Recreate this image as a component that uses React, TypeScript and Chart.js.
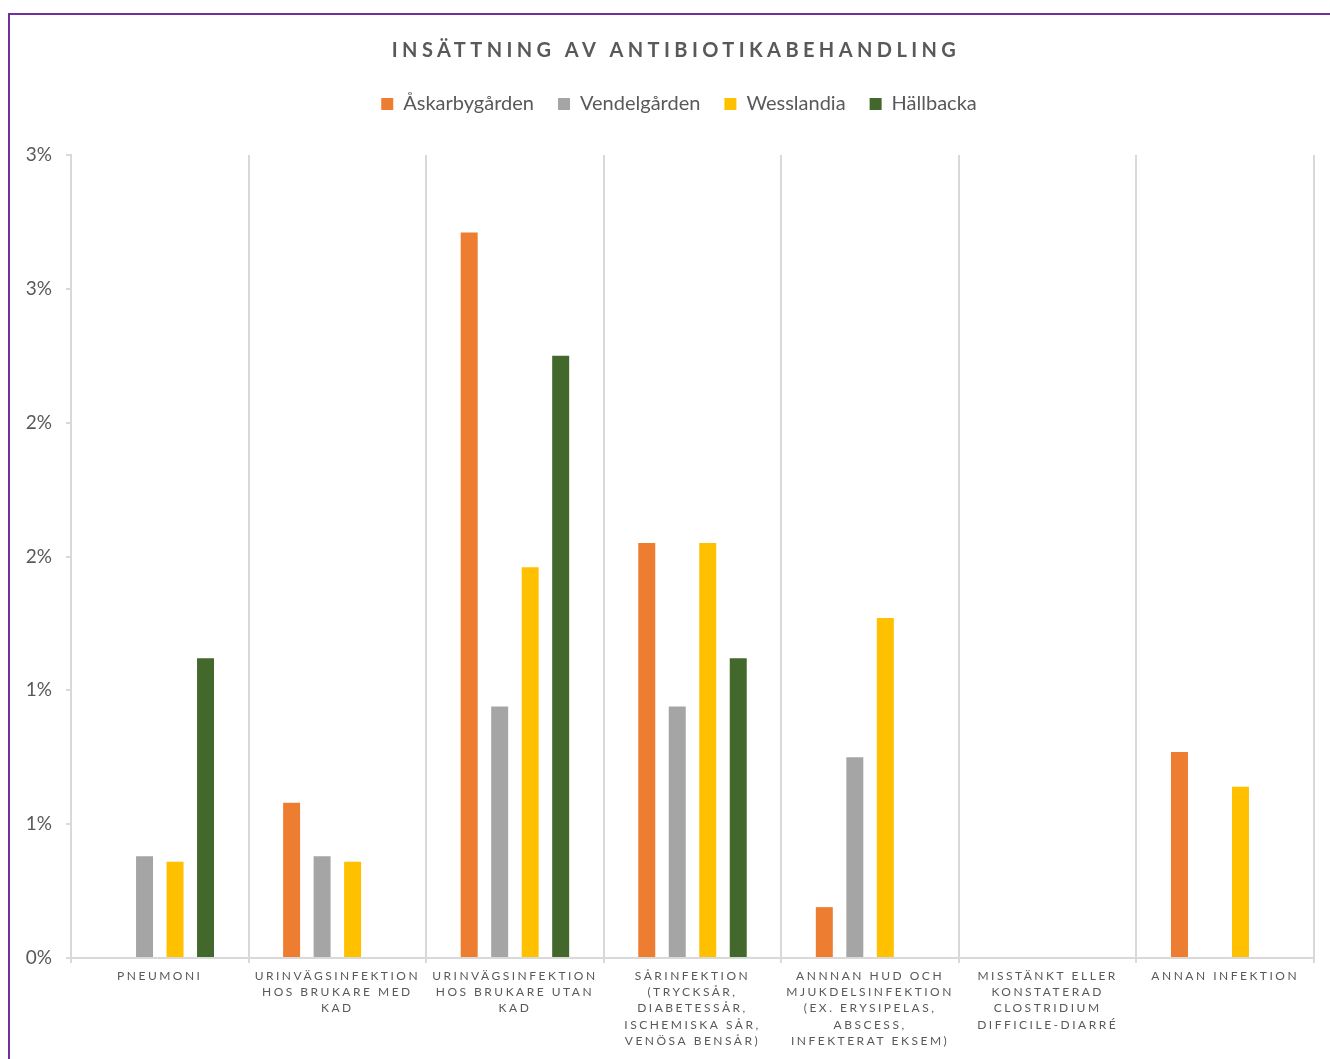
import { useEffect, useRef } from 'react';
import { Chart, CategoryScale, registerables } from 'chart.js';

Chart.register(...registerables);

const TITLE = 'INSÄTTNING AV ANTIBIOTIKABEHANDLING';

const categories: string[][] = [
  ['PNEUMONI'],
  ['URINVÄGSINFEKTION', 'HOS BRUKARE MED', 'KAD'],
  ['URINVÄGSINFEKTION', 'HOS BRUKARE UTAN', 'KAD'],
  ['SÅRINFEKTION', '(TRYCKSÅR,', 'DIABETESSÅR,', 'ISCHEMISKA SÅR,', 'VENÖSA BENSÅR)'],
  ['ANNNAN HUD OCH', 'MJUKDELSINFEKTION', '(EX. ERYSIPELAS,', 'ABSCESS,', 'INFEKTERAT EKSEM)'],
  ['MISSTÄNKT ELLER', 'KONSTATERAD', 'CLOSTRIDIUM', 'DIFFICILE-DIARRÉ'],
  ['ANNAN INFEKTION'],
];

// Percent of residents started on antibiotics, per unit and infection type
const askarbygarden = [0, 0.58, 2.71, 1.55, 0.19, 0, 0.77];
const vendelgarden = [0.38, 0.38, 0.94, 0.94, 0.75, 0, 0];
const wesslandia = [0.36, 0.36, 1.46, 1.55, 1.27, 0, 0.64];
const hallbacka = [1.12, 0, 2.25, 1.12, 0, 0, 0];

const seriesNames = ['Åskarbygården', 'Vendelgården', 'Wesslandia', 'Hällbacka'];
const seriesColors = ['#ED7D31', '#A5A5A5', '#FFC000', '#43682B'];

// Axis runs 0–3 % in half-percent steps; labels are shown rounded to whole percent
const yMin = 0;
const yMax = 3;
const yStep = 0.5;
const yTickLabels = ['0%', '1%', '1%', '2%', '2%', '3%', '3%'];

const TEXT_COLOR = '#595959';
const LINE_COLOR = '#D9D9D9';
const FONT = 'Lato, "Open Sans", sans-serif';
const X_LABEL_SPACING = 2.5;
const LEGEND_GAP = 31;
const LEGEND_SHIFT = 17;

// Category axis whose labels are drawn letter-spaced
class SpacedCategoryScale extends CategoryScale {
  static id = 'spacedCategory';
  static defaults = CategoryScale.defaults;
  drawLabels(chartArea: any) {
    const ctx = this.ctx as any;
    const prev = ctx.letterSpacing;
    ctx.letterSpacing = `${X_LABEL_SPACING}px`;
    super.drawLabels(chartArea);
    ctx.letterSpacing = prev ?? '0px';
  }
}
Chart.register(SpacedCategoryScale);

// Adds breathing room between the legend row and the plot, and nudges the row sideways
const legendGap = {
  id: 'legendGap',
  beforeInit(chart: any) {
    const legend = chart.legend;
    if (!legend) return;
    const fit = legend.fit;
    legend.fit = function () {
      fit.call(this);
      this.height += LEGEND_GAP;
    };
  },
  afterLayout(chart: any) {
    const legend = chart.legend;
    if (!legend) return;
    legend.left += LEGEND_SHIFT;
    legend.right += LEGEND_SHIFT;
  },
};

// Bold, letter-spaced heading
const spacedTitle = {
  id: 'spacedTitle',
  afterDraw(chart: any) {
    const ctx = chart.ctx;
    ctx.save();
    ctx.font = `bold 20px ${FONT}`;
    ctx.fillStyle = TEXT_COLOR;
    (ctx as any).letterSpacing = '4.4px';
    ctx.textAlign = 'center';
    ctx.textBaseline = 'alphabetic';
    ctx.fillText(TITLE, chart.width / 2 + 6, 42);
    ctx.restore();
  },
};

export default function App() {
  const canvasRef = useRef<HTMLCanvasElement | null>(null);

  useEffect(() => {
    const canvas = canvasRef.current;
    if (!canvas) return;
    const seriesValues = [askarbygarden, vendelgarden, wesslandia, hallbacka];

    const chart = new Chart(canvas, {
      type: 'bar',
      data: {
        labels: categories,
        datasets: seriesNames.map((name, i) => ({
          label: name,
          data: seriesValues[i],
          backgroundColor: seriesColors[i],
          borderWidth: 0,
          barPercentage: 0.557,
          categoryPercentage: 0.687,
        })),
      },
      options: {
        responsive: false,
        animation: false,
        layout: { padding: { top: 55, right: 16, left: 0, bottom: 0 } },
        plugins: {
          title: { display: false },
          tooltip: { enabled: false },
          legend: {
            position: 'top',
            labels: {
              boxWidth: 12,
              boxHeight: 12,
              padding: 24,
              color: TEXT_COLOR,
              font: { family: FONT, size: 20 },
            },
          },
        },
        scales: {
          x: {
            type: 'spacedCategory' as any,
            offset: true,
            grid: { offset: true, color: LINE_COLOR, lineWidth: 2, drawTicks: true, tickLength: 5 },
            border: { color: LINE_COLOR, width: 2 },
            ticks: {
              color: TEXT_COLOR,
              font: { family: FONT, size: 12, lineHeight: 1.35 },
              padding: 5,
              autoSkip: false,
              maxRotation: 0,
              minRotation: 0,
            },
            afterFit: (scale: any) => {
              scale.height = 101;
            },
          },
          y: {
            min: yMin,
            max: yMax,
            ticks: {
              stepSize: yStep,
              color: TEXT_COLOR,
              font: { family: FONT, size: 19 },
              padding: 14,
              callback: (_v: any, i: number) => yTickLabels[i],
            },
            grid: { drawOnChartArea: false, drawTicks: true, tickLength: 5, color: LINE_COLOR, lineWidth: 2 },
            border: { color: LINE_COLOR, width: 2 },
            afterFit: (scale: any) => {
              scale.width = 61;
            },
          },
        },
      } as any,
      plugins: [legendGap, spacedTitle],
    });

    return () => chart.destroy();
  }, []);

  return (
    <div
      style={{
        position: 'fixed',
        left: 8,
        top: 13,
        right: 0,
        bottom: 0,
        borderLeft: '2px solid #7030A0',
        borderTop: '2px solid #7030A0',
        background: '#fff',
      }}
    >
      <canvas ref={canvasRef} width={1320} height={1044} style={{ display: 'block' }} />
    </div>
  );
}
